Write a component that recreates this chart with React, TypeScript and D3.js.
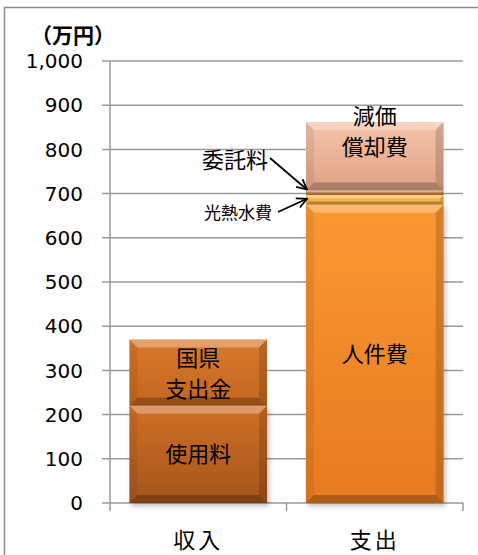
import React from 'react';
import * as d3 from 'd3';

const categories = ['収入', '支出'];
const incomeLabels = ['使用料', '国県\n支出金'];
const incomeValues = [220, 150];
const expenseLabels = ['人件費', '光熱水費', '委託料', '減価\n償却費'];
const expenseValues = [675, 22, 10, 155];
const yTickValues = [0, 100, 200, 300, 400, 500, 600, 700, 800, 900, 1000];
const unitLabel = '（万円）';

const incomeColors = [
  ['#cf7026', '#a5541b'],
  ['#d9792c', '#c2661f'],
];
const expenseColors = [
  ['#fb9833', '#e67a20'],
  ['#fbc25a', '#f2a23a'],
  ['#d89458', '#b97640'],
  ['#f4c4aa', '#e0a285'],
];

const W = 478;
const H = 555;
const FONT = '"Noto Sans CJK JP", "Noto Sans", sans-serif';

export default function App() {
  const y = d3.scaleLinear().domain([0, 1000]).range([503, 61]);
  const x = d3.scaleBand().domain(categories).range([110, 463]).paddingInner(0.22).paddingOuter(0.11);
  const bw = x.bandwidth();

  const stacks = [
    { cat: categories[0], labels: incomeLabels, values: incomeValues, colors: incomeColors },
    { cat: categories[1], labels: expenseLabels, values: expenseValues, colors: expenseColors },
  ];

  const segs: any[] = [];
  stacks.forEach((s, si) => {
    let acc = 0;
    s.values.forEach((v, i) => {
      segs.push({ si, i, cat: s.cat, y0: acc, y1: acc + v, label: s.labels[i], colors: s.colors[i] });
      acc += v;
    });
  });

  const gridColor = '#9a9a9a';

  return (
    <svg width={W} height={H} style={{ position: 'absolute', left: 0, top: 0, background: '#fff' }} fontFamily={FONT}>
      <defs>
        {segs.map((s, k) => (
          <linearGradient key={k} id={`g${k}`} x1="0" y1="0" x2="0" y2="1">
            <stop offset="0" stopColor={s.colors[0]} />
            <stop offset="1" stopColor={s.colors[1]} />
          </linearGradient>
        ))}
        <filter id="sh" x="-10%" y="-10%" width="130%" height="130%">
          <feDropShadow dx="2" dy="3" stdDeviation="2.5" floodColor="#000" floodOpacity="0.25" />
        </filter>
        <marker id="arr" viewBox="0 0 12 12" refX="11" refY="6" markerWidth="12" markerHeight="12" markerUnits="userSpaceOnUse" orient="auto">
          <path d="M1,1 L11,6 L1,11" fill="none" stroke="#000" strokeWidth="1.8" />
        </marker>
      </defs>
      <rect x={4.5} y={7.5} width={W + 10} height={H + 10} fill="#fff" stroke="#8c8c8c" strokeWidth={1.5} />

      <text x={31} y={43} fontSize={21} fontWeight="bold" fill="#000">{unitLabel}</text>

      {yTickValues.map((t) => (
        <g key={t}>
          <line x1={102} x2={463} y1={y(t)} y2={y(t)} stroke={gridColor} strokeWidth={1.5} />
          <text x={83} y={y(t)} dy="0.36em" textAnchor="end" fontSize={20} fontFamily='"DejaVu Sans", sans-serif' fill="#000">{d3.format(',')(t)}</text>
        </g>
      ))}
      <line x1={110} x2={110} y1={y(1000)} y2={y(0)} stroke={gridColor} strokeWidth={1.5} />
      {[110, 286.5, 463].map((tx) => (
        <line key={tx} x1={tx} x2={tx} y1={y(0)} y2={y(0) + 8} stroke={gridColor} strokeWidth={1.5} />
      ))}

      {segs.map((s, k) => {
        const x0 = x(s.cat)!;
        const top = y(s.y1);
        const bot = y(s.y0);
        const h = bot - top;
        const b = Math.min(8, h / 3);
        return (
          <g key={k} filter={k === 0 || k === 2 ? 'url(#sh)' : undefined}>
            <rect x={x0} y={top} width={bw} height={h} fill={`url(#g${k})`} />
            <polygon points={`${x0},${top} ${x0 + bw},${top} ${x0 + bw - b},${top + b} ${x0 + b},${top + b}`} fill="#fff" opacity={0.3} />
            <polygon points={`${x0},${bot} ${x0 + bw},${bot} ${x0 + bw - b},${bot - b} ${x0 + b},${bot - b}`} fill="#000" opacity={0.24} />
            <polygon points={`${x0},${top} ${x0 + b},${top + b} ${x0 + b},${bot - b} ${x0},${bot}`} fill="#000" opacity={0.07} />
            <polygon points={`${x0 + bw},${top} ${x0 + bw - b},${top + b} ${x0 + bw - b},${bot - b} ${x0 + bw},${bot}`} fill="#000" opacity={0.15} />
          </g>
        );
      })}

      {segs.filter((s) => s.y1 - s.y0 > 50).map((s, k) => {
        const cx = x(s.cat)! + bw / 2;
        const lines = s.label.split('\n');
        const mid = (y(s.y0) + y(s.y1)) / 2;
        const isDep = s.si === 1 && s.i === 3;
        const startY = isDep ? y(s.y1) - 6 : mid - ((lines.length - 1) * 30) / 2;
        return (
          <text key={k} x={cx} textAnchor="middle" fontSize={22} fill="#000">
            {lines.map((ln: string, j: number) => (
              <tspan key={j} x={cx} y={startY + j * 31} dy="0.36em">{ln}</tspan>
            ))}
          </text>
        );
      })}

      {(() => {
        const xe = x(categories[1])!;
        const s委 = segs.find((s) => s.si === 1 && s.i === 2);
        const s光 = segs.find((s) => s.si === 1 && s.i === 1);
        return (
          <g>
            <text x={235} y={160} dy="0.36em" textAnchor="middle" fontSize={22}>{s委.label}</text>
            <line x1={270} y1={158} x2={xe + 1} y2={y(s委.y1) - 1} stroke="#000" strokeWidth={1.8} markerEnd="url(#arr)" />
            <text x={238} y={213} dy="0.36em" textAnchor="middle" fontSize={17}>{s光.label}</text>
            <line x1={278} y1={212} x2={xe + 1} y2={(y(s光.y0) + y(s光.y1)) / 2 - 1} stroke="#000" strokeWidth={1.8} markerEnd="url(#arr)" />
          </g>
        );
      })()}

      {categories.map((c) => (
        <text key={c} x={x(c)! + bw / 2} y={540} dy="0.36em" textAnchor="middle" fontSize={22} letterSpacing={3} fill="#000">{c}</text>
      ))}
    </svg>
  );
}
